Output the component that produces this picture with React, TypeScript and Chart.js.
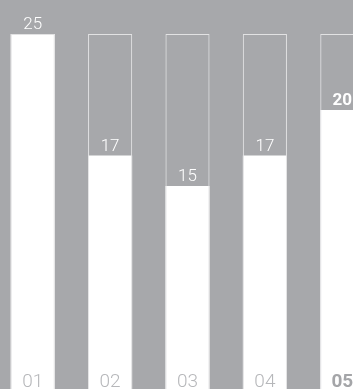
import React, { useEffect, useRef } from "react";
import { Chart, registerables } from "chart.js";

Chart.register(...registerables);

const categories = ["01", "02", "03", "04", "05"];
const values = [25, 17, 15, 17, 20];
const maxValues = [25, 25, 25, 25, 25];
const highlightIndex = 4;

const BG = "#a7a8ab";

const labelPlugin = {
  id: "labelPlugin",
  afterDatasetsDraw(chart: any) {
    const ctx = chart.ctx;
    const meta = chart.getDatasetMeta(1);
    const x = chart.scales.x;
    ctx.save();
    ctx.textAlign = "center";
    ctx.textBaseline = "alphabetic";
    meta.data.forEach((bar: any, i: number) => {
      const bold = i === highlightIndex;
      ctx.font = `${bold ? 700 : 300} 17px Roboto, "Liberation Sans", sans-serif`;
      ctx.fillStyle = "#ffffff";
      ctx.fillText(String(values[i]), bar.x, bar.y - 5);
    });
    categories.forEach((c, i) => {
      const bold = i === highlightIndex;
      ctx.font = `${bold ? 700 : 300} 19px Roboto, "Liberation Sans", sans-serif`;
      ctx.fillStyle = bold ? "#a4a5a8" : "#b6b7ba";
      ctx.fillText(c, x.getPixelForValue(i), chart.chartArea.bottom - 27);
    });
    ctx.restore();
  },
};

export default function App() {
  const ref = useRef<HTMLCanvasElement>(null);
  useEffect(() => {
    const canvas = ref.current!;
    const chart = new Chart(canvas, {
      type: "bar",
      data: {
        labels: categories,
        datasets: [
          {
            data: maxValues,
            backgroundColor: "rgba(0,0,0,0)",
            borderColor: "#e2e2e3",
            borderWidth: 1,
            borderSkipped: false,
            grouped: false,
            categoryPercentage: 1,
            barPercentage: 0.57,
          } as any,
          {
            data: values,
            backgroundColor: "#ffffff",
            borderWidth: 0,
            grouped: false,
            categoryPercentage: 1,
            barPercentage: 0.57,
          } as any,
        ],
      },
      options: {
        responsive: false,
        animation: false,
        devicePixelRatio: 1,
        layout: { padding: { top: 34, left: 0, right: 0, bottom: 0 } },
        plugins: { legend: { display: false }, tooltip: { enabled: false } },
        scales: {
          x: { display: false, offset: true },
          y: { display: false, min: 0, max: 25 },
        },
      },
      plugins: [labelPlugin],
    });
    return () => chart.destroy();
  }, []);
  return (
    <div
      style={{
        position: "fixed",
        left: 0,
        top: 0,
        width: 353,
        height: 389,
        overflow: "hidden",
        background: BG,
      }}
    >
      <canvas
        ref={ref}
        width={387}
        height={414}
        style={{ position: "absolute", left: -6, top: 0, width: 387, height: 414 }}
      />
    </div>
  );
}
